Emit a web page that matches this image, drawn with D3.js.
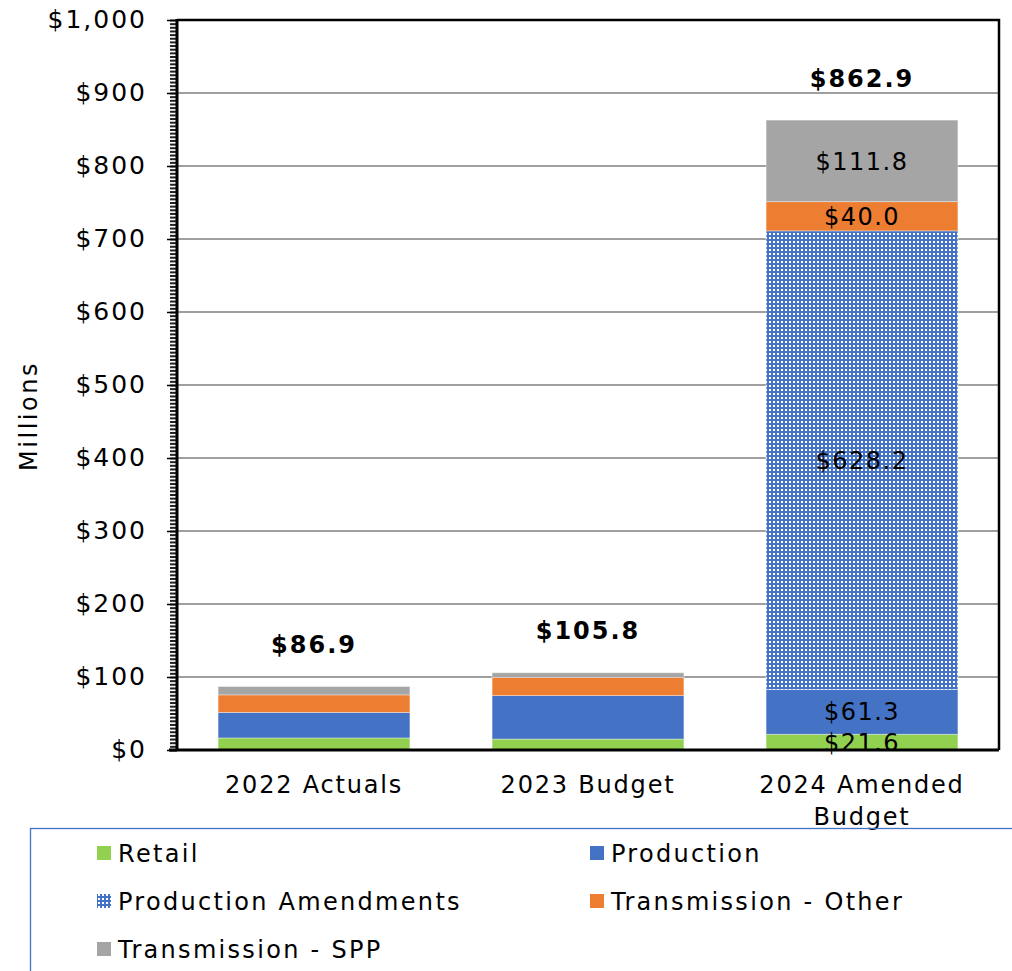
<!DOCTYPE html>
<html>
<head>
<meta charset="utf-8">
<script src="https://cdn.jsdelivr.net/npm/d3@7"></script>
<style>
  body { margin: 0; background: #fff; }
  text { font-family: "DejaVu Sans", sans-serif; fill: #000; }
</style>
</head>
<body>
<script>
// chart values (millions)
const categories = ["2022 Actuals", "2023 Budget", "2024 Amended Budget"];
const retail = [16.5, 15.0, 21.6];
const production = [35.0, 59.5, 61.3];
const productionAmendments = [0, 0, 628.2];
const transmissionOther = [24.0, 25.0, 40.0];
const transmissionSPP = [11.4, 6.3, 111.8];
const totals = [86.9, 105.8, 862.9];
const yTicks = [0, 100, 200, 300, 400, 500, 600, 700, 800, 900, 1000];
const seriesNames = ["Retail", "Production", "Production Amendments", "Transmission - Other", "Transmission - SPP"];
const labelledCategory = "2024 Amended Budget";

const colors = {
  "Retail": "#92D050",
  "Production": "#4472C4",
  "Production Amendments": "url(#smallgrid)",
  "Transmission - Other": "#ED7D31",
  "Transmission - SPP": "#A5A5A5"
};

const seriesValues = [retail, production, productionAmendments, transmissionOther, transmissionSPP];
const rows = categories.map((c, i) => {
  let r = { category: c, total: totals[i] };
  seriesNames.forEach((s, j) => { r[s] = seriesValues[j][i]; });
  return r;
});

const W = 1012, H = 971;
const plotL = 177, plotR = 999, plotT = 20, plotB = 750;

const svg = d3.select("body").append("svg")
  .attr("width", W)
  .attr("height", H);

// pattern for the amendments (blue with little white squares)
const defs = svg.append("defs");
const pat = defs.append("pattern")
  .attr("id", "smallgrid")
  .attr("width", 4).attr("height", 4)
  .attr("patternUnits", "userSpaceOnUse");
pat.append("rect").attr("width", 4).attr("height", 4).attr("fill", "#4472C4");
pat.append("rect").attr("x", 1).attr("y", 1).attr("width", 2).attr("height", 2).attr("fill", "#fff");

const x = d3.scaleBand()
  .domain(categories)
  .range([plotL, plotR])
  .paddingInner(0.3)
  .paddingOuter(0.15);

const y = d3.scaleLinear()
  .domain([0, 1000])
  .range([plotB, plotT]);

// gridlines
svg.append("g")
  .selectAll("line")
  .data(yTicks.filter(d => d > 0 && d < 1000))
  .enter()
    .append("line")
    .attr("x1", plotL).attr("x2", plotR)
    .attr("y1", d => y(d)).attr("y2", d => y(d))
    .attr("stroke", "#404040")
    .attr("stroke-width", 1.2);

// plot border top / right
svg.append("path")
  .attr("d", `M${plotL},${plotT}H${plotR}V${plotB}`)
  .attr("fill", "none")
  .attr("stroke", "#000")
  .attr("stroke-width", 2.5);

// stacked bars
const stack = d3.stack().keys(seriesNames);
const layers = stack(rows);

const layerG = svg.append("g")
  .selectAll("g")
  .data(layers)
  .enter()
    .append("g")
    .attr("fill", d => colors[d.key]);

layerG.selectAll("rect")
  .data(d => d.map(p => ({ key: d.key, p: p })))
  .enter()
    .append("rect")
    .attr("x", d => x(d.p.data.category))
    .attr("width", x.bandwidth())
    .attr("y", d => y(d.p[1]))
    .attr("height", d => y(d.p[0]) - y(d.p[1]))
    .attr("stroke", "rgba(255,255,255,0.45)")
    .attr("stroke-width", 0.8);

// segment labels on the amended bar
const segLabels = [];
layers.forEach(l => {
  l.forEach(p => {
    if (p.data.category === labelledCategory && p[1] - p[0] > 0) {
      segLabels.push({ cat: p.data.category, mid: (p[0] + p[1]) / 2, v: p[1] - p[0] });
    }
  });
});

svg.append("g")
  .selectAll("text")
  .data(segLabels)
  .enter()
    .append("text")
    .attr("x", d => x(d.cat) + x.bandwidth() / 2)
    .attr("y", d => y(d.mid))
    .attr("dy", "0.36em")
    .attr("text-anchor", "middle")
    .attr("font-size", 24)
    .attr("letter-spacing", 1.5)
    .text(d => "$" + d3.format(".1f")(d.v));

// totals above bars
svg.append("g")
  .selectAll("text")
  .data(rows)
  .enter()
    .append("text")
    .attr("x", d => x(d.category) + x.bandwidth() / 2)
    .attr("y", d => y(d.total) - 42)
    .attr("dy", "0.36em")
    .attr("text-anchor", "middle")
    .attr("font-size", 24)
    .attr("font-weight", "bold")
    .attr("letter-spacing", 2)
    .text(d => "$" + d3.format(".1f")(d.total));

// y axis: dense minor ticks, major ticks and labels
const minorAxis = svg.append("g")
  .attr("transform", `translate(${plotL},0)`)
  .call(d3.axisLeft(y).tickValues(d3.range(0, 1001, 5)).tickSize(7).tickFormat(""));
minorAxis.select(".domain").remove();
minorAxis.selectAll("line").attr("stroke", "#222").attr("stroke-width", 2);

const yAxis = svg.append("g")
  .attr("transform", `translate(${plotL},0)`)
  .call(d3.axisLeft(y)
    .tickValues(yTicks)
    .tickSize(10)
    .tickPadding(20)
    .tickFormat(d => "$" + d3.format(",")(d)));
yAxis.select(".domain").remove();
yAxis.selectAll("line").attr("stroke", "#000").attr("stroke-width", 1.5);
yAxis.selectAll("text")
  .attr("font-size", 25)
  .attr("letter-spacing", 2)
  .attr("dy", "0.3em")
  .attr("font-family", "DejaVu Sans")
  .attr("fill", "#000");

// axis lines
svg.append("line")
  .attr("x1", plotL).attr("x2", plotL)
  .attr("y1", plotT - 1).attr("y2", plotB + 1)
  .attr("stroke", "#000").attr("stroke-width", 3);
svg.append("line")
  .attr("x1", plotL - 8).attr("x2", plotR)
  .attr("y1", plotB).attr("y2", plotB)
  .attr("stroke", "#000").attr("stroke-width", 3);

// x labels, wrapped
const xLab = svg.append("g")
  .selectAll("text")
  .data(categories)
  .enter()
    .append("text")
    .attr("x", d => x(d) + x.bandwidth() / 2)
    .attr("y", 793)
    .attr("text-anchor", "middle")
    .attr("font-size", 24)
    .attr("letter-spacing", 1.8)
    .text(d => d);

xLab.each(function (d) {
  const t = d3.select(this);
  if (this.getComputedTextLength() > x.step() - 10) {
    const words = d.split(" ");
    const last = words.pop();
    t.text(null);
    t.append("tspan").attr("x", x(d) + x.bandwidth() / 2).text(words.join(" "));
    t.append("tspan").attr("x", x(d) + x.bandwidth() / 2).attr("dy", 32).text(last);
  }
});

// y title
svg.append("text")
  .attr("transform", "translate(37,416) rotate(-90)")
  .attr("text-anchor", "middle")
  .attr("font-size", 24)
  .attr("letter-spacing", 2.5)
  .text("Millions");

// legend
svg.append("rect")
  .attr("x", 30.5).attr("y", 828.5)
  .attr("width", 1010).attr("height", 200)
  .attr("fill", "none")
  .attr("stroke", "#4472C4")
  .attr("stroke-width", 1.3);

const legend = svg.append("g")
  .selectAll("g")
  .data(seriesNames)
  .enter()
    .append("g")
    .attr("transform", (d, i) => `translate(${i % 2 === 0 ? 97 : 590},${853 + Math.floor(i / 2) * 48})`);

legend.append("rect")
  .attr("x", 0).attr("y", -7)
  .attr("width", 14).attr("height", 14)
  .attr("fill", d => colors[d]);

legend.append("text")
  .attr("x", 21)
  .attr("dy", "0.36em")
  .attr("font-size", 24)
  .attr("letter-spacing", 2.3)
  .text(d => d);
</script>
</body>
</html>
